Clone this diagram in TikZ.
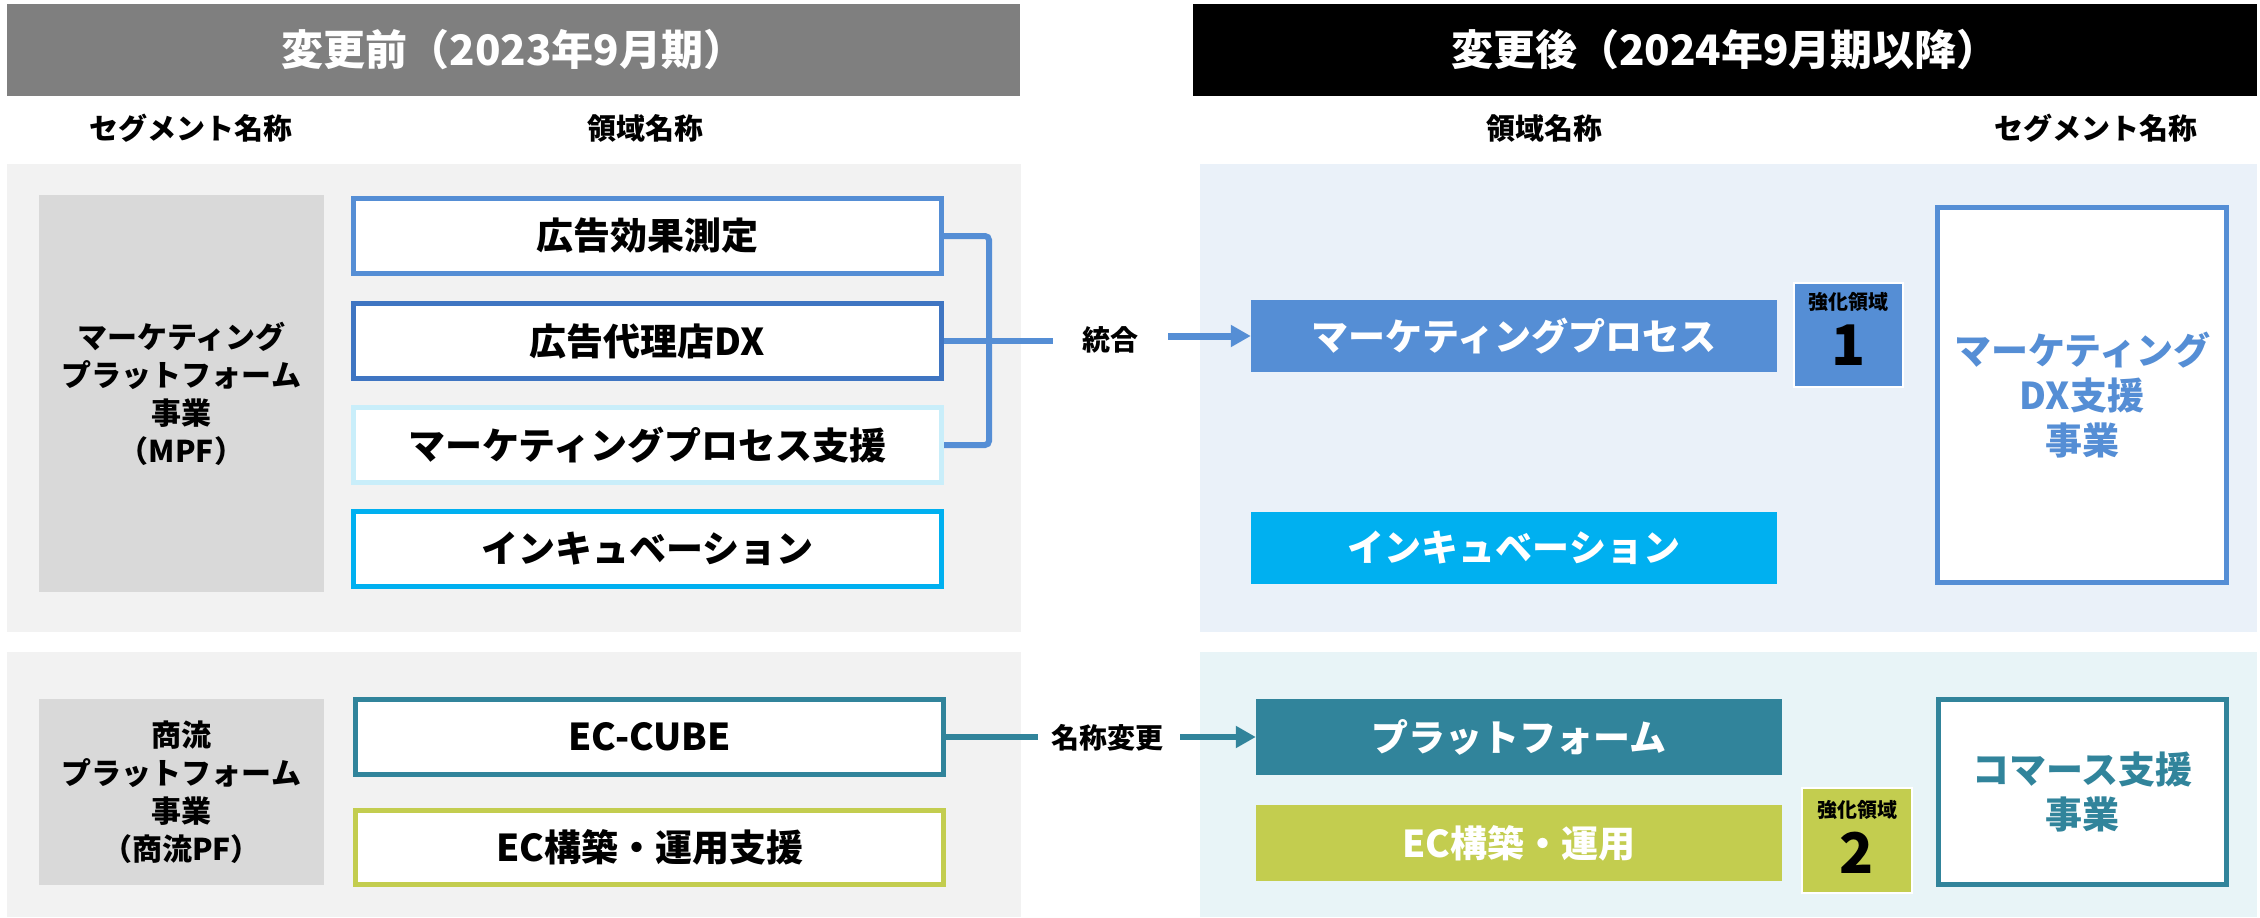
\documentclass[tikz,border=0pt]{standalone}
\usepackage{fontspec}
\setmainfont{Noto Sans CJK JP}
\usetikzlibrary{arrows.meta,calc}
\definecolor{hdgray}{HTML}{7F7F7F}
\definecolor{pgray}{HTML}{F2F2F2}
\definecolor{sgray}{HTML}{D9D9D9}
\definecolor{mblue}{HTML}{558ED5}
\definecolor{dblue}{HTML}{3F75C2}
\definecolor{lcyan}{HTML}{C9EEFA}
\definecolor{cyanb}{HTML}{00B0F0}
\definecolor{teal}{HTML}{31849B}
\definecolor{ygreen}{HTML}{C3CD4F}
\definecolor{pblue}{HTML}{EAF1F9}
\definecolor{pteal}{HTML}{E8F4F7}
\begin{document}
\begin{tikzpicture}[x=1pt,y=-1pt,
  header/.style={rectangle, inner sep=0pt, text=white, font=\fontsize{42}{46}\selectfont\bfseries},
  subhead/.style={inner sep=0pt, font=\fontsize{29}{32}\selectfont\bfseries},
  panel/.style={rectangle, inner sep=0pt},
  segbox/.style={rectangle, inner sep=0pt, fill=sgray, align=center, font=\fontsize{30}{38}\selectfont\bfseries},
  obox/.style={rectangle, inner sep=0pt, fill=white, line width=5pt, minimum width=588pt, minimum height=75pt, font=\fontsize{37}{40}\selectfont\bfseries},
  fbox/.style={rectangle, inner sep=0pt, text=white, minimum width=526pt, font=\fontsize{37}{40}\selectfont\bfseries},
  kbox/.style={rectangle, inner sep=0pt, draw=white, line width=2pt},
  ksmall/.style={inner sep=0pt, font=\fontsize{20}{22}\selectfont\bfseries},
  kbig/.style={inner sep=0pt, font=\fontsize{56}{58}\selectfont\bfseries},
  sbox/.style={rectangle, inner sep=0pt, fill=white, line width=5pt, align=center, font=\fontsize{37}{45}\selectfont\bfseries},
  lbl/.style={inner sep=0pt, font=\fontsize{28}{32}\selectfont\bfseries},
  brk/.style={draw=mblue, line width=6pt, rounded corners=4pt},
  arr/.style={line width=7pt, -{Triangle[length=20pt,width=21pt]}}
]
\useasboundingbox (0,0) rectangle (2260,918);
% headers
\node[header, fill=hdgray, minimum width=1013pt, minimum height=92pt] (hL) at (513.5,50) {変更前（2023年9月期）};
\node[header, fill=black, minimum width=1064pt, minimum height=92pt] (hR) at (1725,50) {変更後（2024年9月期以降）};
% sub headers
\node[subhead] (shL1) at (191,128) {セグメント名称};
\node[subhead] (shL2) at (645,128) {領域名称};
\node[subhead] (shR1) at (1544,128) {領域名称};
\node[subhead] (shR2) at (2096,128) {セグメント名称};
% panels
\node[panel, fill=pgray, minimum width=1014pt, minimum height=468pt] (pL1) at (514,398) {};
\node[panel, fill=pgray, minimum width=1014pt, minimum height=265pt] (pL2) at (514,784.5) {};
\node[panel, fill=pblue, minimum width=1057pt, minimum height=468pt] (pR1) at (1728.5,398) {};
\node[panel, fill=pteal, minimum width=1057pt, minimum height=265pt] (pR2) at (1728.5,784.5) {};
% segment boxes (before)
\node[segbox, minimum width=285pt, minimum height=397pt] (seg1) at (181.5,393.5) {マーケティング\\プラットフォーム\\事業\\（MPF）};
\node[segbox, minimum width=285pt, minimum height=186pt] (seg2) at (181.5,792) {商流\\プラットフォーム\\事業\\（商流PF）};
% domain boxes (before)
\node[obox, draw=mblue] (b1) at (647.5,236) {広告効果測定};
\node[obox, draw=dblue] (b2) at (647.5,341) {広告代理店DX};
\node[obox, draw=lcyan] (b3) at (647.5,445) {マーケティングプロセス支援};
\node[obox, draw=cyanb] (b4) at (647.5,549) {インキュベーション};
\node[obox, draw=teal] (b5) at (649.5,737) {EC-CUBE};
\node[obox, draw=ygreen, minimum height=74pt] (b6) at (649.5,847.5) {EC構築・運用支援};
% domain boxes (after)
\node[fbox, fill=mblue, minimum height=72pt] (r1) at (1514,336) {マーケティングプロセス};
\node[fbox, fill=cyanb, minimum height=72pt] (r2) at (1514,548) {インキュベーション};
\node[fbox, fill=teal, minimum height=76pt] (r3) at (1519,737) {プラットフォーム};
\node[fbox, fill=ygreen, minimum height=76pt] (r4) at (1519,843) {EC構築・運用};
% focus area tags
\node[kbox, fill=mblue, minimum width=109pt, minimum height=104pt] (k1) at (1848.5,335) {};
\node[ksmall] (k1t) at ($(k1.north)+(0,20)$) {強化領域};
\node[kbig] (k1n) at ($(k1.north)+(0,63)$) {1};
\node[kbox, fill=ygreen, minimum width=110pt, minimum height=105pt] (k2) at (1857,840.5) {};
\node[ksmall] (k2t) at ($(k2.north)+(0,23)$) {強化領域};
\node[kbig] (k2n) at ($(k2.north)+(0,66)$) {2};
% segment boxes (after)
\node[sbox, draw=mblue, text=mblue, minimum width=289pt, minimum height=375pt] (s1) at (2082,395) {マーケティング\\DX支援\\事業};
\node[sbox, draw=teal, text=teal, minimum width=288pt, minimum height=185pt] (s2) at (2082.5,792) {コマース支援\\事業};
% connectors
\coordinate (bj) at (989,445);
\draw[brk] (b1.east) -| (bj) -- (b3.east);
\coordinate (t1) at (1053,341);
\draw[draw=mblue, line width=6pt] (b2.east) -- (t1);
\node[lbl] (l1) at (1110,340) {統合};
\coordinate (a1) at (1168,336);
\draw[arr, draw=mblue, fill=mblue] (a1) -- (r1.west);
\coordinate (t2) at (1038,737);
\draw[draw=teal, line width=6pt] (b5.east) -- (t2);
\node[lbl] (l2) at (1107,738) {名称変更};
\coordinate (a2) at (1180,737);
\draw[arr, line width=6pt, draw=teal, fill=teal] (a2) -- (r3.west);
\end{tikzpicture}
\end{document}
